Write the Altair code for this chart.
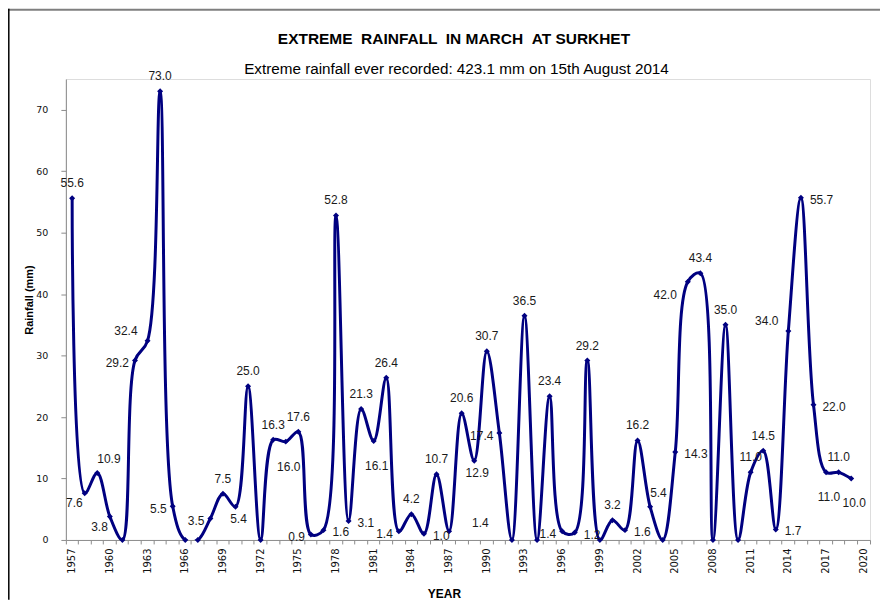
import altair as alt
import pandas as pd

# ---------------- data ----------------
YEARS = list(range(1957, 2020))
AXIS_YEARS = list(range(1957, 2021))
RAINFALL = [
    55.6, 7.6, 10.9, 3.8, 0.0, 29.2, 32.4, 73.0, 5.5, 0.0,      # 1957-1966
    0.0, 3.5, 7.5, 5.4, 25.0, 0.0, 16.3, 16.0, 17.6, 0.9,       # 1967-1976
    1.6, 52.8, 3.1, 21.3, 16.1, 26.4, 1.4, 4.2, 1.0, 10.7,      # 1977-1986
    1.4, 20.6, 12.9, 30.7, 17.4, 0.0, 36.5, 0.0, 23.4, 1.4,     # 1987-1996
    1.2, 29.2, 0.0, 3.2, 1.6, 16.2, 5.4, 0.0, 14.3, 42.0,       # 1997-2006
    43.4, 0.0, 35.0, 0.0, 11.0, 14.5, 1.7, 34.0, 55.7, 22.0,    # 2007-2016
    11.0, 11.0, 10.0,                                           # 2017-2019
]
# where each data label sits relative to its point ("" = no label, for zero values)
LABEL_POS = [
    "a", "bl", "ar", "bl", "", "l", "al", "a", "l", "",
    "", "l", "a", "bs", "a", "", "a", "b", "a", "l",
    "r", "a", "r", "a", "b", "a", "l", "a", "r", "a",
    "rr", "a", "bs", "a", "l", "", "a", "", "a", "l",
    "r", "a", "", "a", "r", "a", "ar", "", "r", "lb",
    "a", "", "a", "", "a", "a", "r", "al", "r", "r",
    "b", "a", "b",
]

TITLE = "EXTREME \u00a0RAINFALL \u00a0IN MARCH \u00a0AT SURKHET"
SUBTITLE = "Extreme rainfall ever recorded: 423.1 mm on 15th August 2014"

df = pd.DataFrame({"year": YEARS, "rain": RAINFALL, "pos": LABEL_POS})
df["lbl"] = df["rain"].map(lambda v: f"{v:.1f}")

NAVY = "#000080"
W, H = 806, 462

x_enc = alt.X(
    "year:O",
    scale=alt.Scale(type="band", domain=AXIS_YEARS, paddingInner=0, paddingOuter=0),
    axis=alt.Axis(
        title="YEAR",
        titleFont="Liberation Sans",
        titleFontSize=12,
        titleFontWeight="bold",
        titleColor="#000000",
        titleX=379,
        titleY=54,
        titleBaseline="middle",
        labelAngle=270,
        labelFont="DejaVu Sans",
        labelFontSize=10,
        labelColor="#111111",
        labelPadding=4,
        labelExpr="(datum.value - 1957) % 3 == 0 ? datum.label : ''",
        bandPosition=1,
        tickExtra=True,
        tickSize=4,
        tickColor="#8c8c8c",
        domainColor="#8c8c8c",
        grid=False,
    ),
)
y_enc = alt.Y(
    "rain:Q",
    scale=alt.Scale(domain=[0, 75], nice=False, zero=True),
    axis=alt.Axis(
        title="Rainfall (mm)",
        titleFont="Liberation Sans",
        titleFontSize=11,
        titleFontWeight="bold",
        titleColor="#000000",
        titleAngle=270,
        titleX=-36,
        titleY=221,
        titleAlign="center",
        titleBaseline="middle",
        values=[0, 10, 20, 30, 40, 50, 60, 70],
        labelFont="DejaVu Sans",
        labelFontSize=9.5,
        labelColor="#111111",
        labelPadding=13,
        tickSize=5,
        tickColor="#8c8c8c",
        domainColor="#8c8c8c",
        grid=False,
    ),
)

base = alt.Chart(df)

line = base.mark_line(
    interpolate="catmull-rom", clip=True, color=NAVY, strokeWidth=3
).encode(x=x_enc, y=y_enc)

points = base.mark_point(
    shape="diamond", filled=True, size=36, color=NAVY, opacity=1
).encode(x=x_enc, y=y_enc)

PLACEMENT = {
    "a": dict(align="center", dx=0, dy=-15),
    "b": dict(align="center", dx=3, dy=25),
    "bs": dict(align="center", dx=3, dy=12),
    "l": dict(align="right", dx=-6, dy=3),
    "lb": dict(align="right", dx=-11, dy=13),
    "r": dict(align="left", dx=9, dy=2),
    "rr": dict(align="left", dx=23, dy=-8),
    "al": dict(align="right", dx=-10, dy=-10),
    "ar": dict(align="left", dx=0, dy=-14),
    "bl": dict(align="right", dx=-2, dy=10),
}

label_layers = []
for code, p in PLACEMENT.items():
    label_layers.append(
        base.transform_filter(alt.datum.pos == code)
        .mark_text(
            font="Liberation Sans",
            fontSize=12,
            color="#1a1a1a",
            baseline="middle",
            align=p["align"],
            dx=p["dx"],
            dy=p["dy"],
        )
        .encode(x=x_enc, y=y_enc, text="lbl:N")
    )

frame_data = alt.Data(values=[{"k": 1}])
top_border = alt.Chart(frame_data).mark_rule(color="#7f7f7f", strokeWidth=2).encode(
    x=alt.value(-58), x2=alt.value(W + 14), y=alt.value(-69.5)
)
left_border = alt.Chart(frame_data).mark_rule(color="#000000", strokeWidth=1.5).encode(
    x=alt.value(-57.2), y=alt.value(-70.5), y2=alt.value(H + 60)
)
title_text = alt.Chart(frame_data).mark_text(
    text=TITLE, font="Liberation Sans", fontSize=15.5, fontWeight="bold",
    color="#000000", align="center", baseline="alphabetic",
).encode(x=alt.value(389), y=alt.value(-35.5))
subtitle_text = alt.Chart(frame_data).mark_text(
    text=SUBTITLE, font="Liberation Sans", fontSize=15.3,
    color="#000000", align="center", baseline="alphabetic",
).encode(x=alt.value(391.5), y=alt.value(-5.5))

chart = (
    alt.layer(top_border, left_border, title_text, subtitle_text, line, points, *label_layers)
    .properties(
        width=W,
        height=H,
        autosize=alt.AutoSizeParams(type="none"),
        padding={"left": 58, "top": 70.5, "right": 10, "bottom": 59.5},
    )
    .configure_view(stroke=None)
    .configure(background="white")
)

chart.save("out.html", embed_options={"renderer": "svg", "actions": False})
